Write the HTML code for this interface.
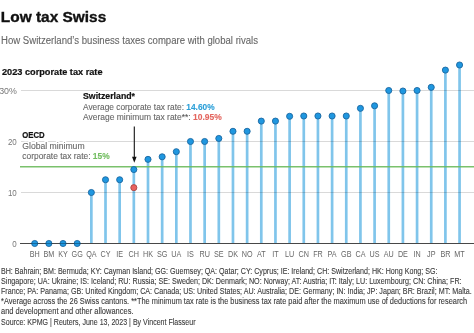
<!DOCTYPE html>
<html><head><meta charset="utf-8"><style>
html,body{margin:0;padding:0;background:#fff;width:474px;height:333px;overflow:hidden;position:relative;font-family:"Liberation Sans", sans-serif}
</style></head><body>
<svg width="474" height="333" viewBox="0 0 474 333" style="position:absolute;left:0;top:0;will-change:transform"><line x1="91.35" x2="91.35" y1="192.50" y2="243.50" stroke="#80c5eb" stroke-width="2.7"/><line x1="105.51" x2="105.51" y1="179.75" y2="243.50" stroke="#80c5eb" stroke-width="2.7"/><line x1="119.67" x2="119.67" y1="179.75" y2="243.50" stroke="#80c5eb" stroke-width="2.7"/><line x1="133.83" x2="133.83" y1="169.55" y2="243.50" stroke="#80c5eb" stroke-width="2.7"/><line x1="148.00" x2="148.00" y1="159.35" y2="243.50" stroke="#80c5eb" stroke-width="2.7"/><line x1="162.16" x2="162.16" y1="156.80" y2="243.50" stroke="#80c5eb" stroke-width="2.7"/><line x1="176.32" x2="176.32" y1="151.70" y2="243.50" stroke="#80c5eb" stroke-width="2.7"/><line x1="190.48" x2="190.48" y1="141.50" y2="243.50" stroke="#80c5eb" stroke-width="2.7"/><line x1="204.64" x2="204.64" y1="141.50" y2="243.50" stroke="#80c5eb" stroke-width="2.7"/><line x1="218.81" x2="218.81" y1="138.44" y2="243.50" stroke="#80c5eb" stroke-width="2.7"/><line x1="232.97" x2="232.97" y1="131.30" y2="243.50" stroke="#80c5eb" stroke-width="2.7"/><line x1="247.13" x2="247.13" y1="131.30" y2="243.50" stroke="#80c5eb" stroke-width="2.7"/><line x1="261.29" x2="261.29" y1="121.10" y2="243.50" stroke="#80c5eb" stroke-width="2.7"/><line x1="275.45" x2="275.45" y1="121.10" y2="243.50" stroke="#80c5eb" stroke-width="2.7"/><line x1="289.62" x2="289.62" y1="116.31" y2="243.50" stroke="#80c5eb" stroke-width="2.7"/><line x1="303.78" x2="303.78" y1="116.00" y2="243.50" stroke="#80c5eb" stroke-width="2.7"/><line x1="317.94" x2="317.94" y1="116.00" y2="243.50" stroke="#80c5eb" stroke-width="2.7"/><line x1="332.10" x2="332.10" y1="116.00" y2="243.50" stroke="#80c5eb" stroke-width="2.7"/><line x1="346.26" x2="346.26" y1="116.00" y2="243.50" stroke="#80c5eb" stroke-width="2.7"/><line x1="360.43" x2="360.43" y1="108.35" y2="243.50" stroke="#80c5eb" stroke-width="2.7"/><line x1="374.59" x2="374.59" y1="105.80" y2="243.50" stroke="#80c5eb" stroke-width="2.7"/><line x1="388.75" x2="388.75" y1="90.50" y2="243.50" stroke="#80c5eb" stroke-width="2.7"/><line x1="402.91" x2="402.91" y1="91.01" y2="243.50" stroke="#80c5eb" stroke-width="2.7"/><line x1="417.07" x2="417.07" y1="90.50" y2="243.50" stroke="#80c5eb" stroke-width="2.7"/><line x1="431.24" x2="431.24" y1="87.34" y2="243.50" stroke="#80c5eb" stroke-width="2.7"/><line x1="445.40" x2="445.40" y1="70.10" y2="243.50" stroke="#80c5eb" stroke-width="2.7"/><line x1="459.56" x2="459.56" y1="65.00" y2="243.50" stroke="#80c5eb" stroke-width="2.7"/><line x1="21" x2="474" y1="192.50" y2="192.50" stroke="#000" stroke-opacity="0.15" stroke-width="1"/><line x1="21" x2="474" y1="141.50" y2="141.50" stroke="#000" stroke-opacity="0.15" stroke-width="1"/><line x1="21" x2="474" y1="90.50" y2="90.50" stroke="#000" stroke-opacity="0.15" stroke-width="1"/><line x1="20" x2="474" y1="166.70" y2="166.70" stroke="#6cba5c" stroke-opacity="0.9" stroke-width="1.6"/><line x1="20" x2="474" y1="243.50" y2="243.50" stroke="#666" stroke-width="1.1"/><circle cx="34.70" cy="243.50" r="3.05" fill="#1f97e0" stroke="#1a66a0" stroke-width="0.9"/><circle cx="48.86" cy="243.50" r="3.05" fill="#1f97e0" stroke="#1a66a0" stroke-width="0.9"/><circle cx="63.02" cy="243.50" r="3.05" fill="#1f97e0" stroke="#1a66a0" stroke-width="0.9"/><circle cx="77.19" cy="243.50" r="3.05" fill="#1f97e0" stroke="#1a66a0" stroke-width="0.9"/><circle cx="91.35" cy="192.50" r="3.05" fill="#1f97e0" stroke="#1a66a0" stroke-width="0.9"/><circle cx="105.51" cy="179.75" r="3.05" fill="#1f97e0" stroke="#1a66a0" stroke-width="0.9"/><circle cx="119.67" cy="179.75" r="3.05" fill="#1f97e0" stroke="#1a66a0" stroke-width="0.9"/><circle cx="133.83" cy="169.55" r="3.05" fill="#1f97e0" stroke="#1a66a0" stroke-width="0.9"/><circle cx="148.00" cy="159.35" r="3.05" fill="#1f97e0" stroke="#1a66a0" stroke-width="0.9"/><circle cx="162.16" cy="156.80" r="3.05" fill="#1f97e0" stroke="#1a66a0" stroke-width="0.9"/><circle cx="176.32" cy="151.70" r="3.05" fill="#1f97e0" stroke="#1a66a0" stroke-width="0.9"/><circle cx="190.48" cy="141.50" r="3.05" fill="#1f97e0" stroke="#1a66a0" stroke-width="0.9"/><circle cx="204.64" cy="141.50" r="3.05" fill="#1f97e0" stroke="#1a66a0" stroke-width="0.9"/><circle cx="218.81" cy="138.44" r="3.05" fill="#1f97e0" stroke="#1a66a0" stroke-width="0.9"/><circle cx="232.97" cy="131.30" r="3.05" fill="#1f97e0" stroke="#1a66a0" stroke-width="0.9"/><circle cx="247.13" cy="131.30" r="3.05" fill="#1f97e0" stroke="#1a66a0" stroke-width="0.9"/><circle cx="261.29" cy="121.10" r="3.05" fill="#1f97e0" stroke="#1a66a0" stroke-width="0.9"/><circle cx="275.45" cy="121.10" r="3.05" fill="#1f97e0" stroke="#1a66a0" stroke-width="0.9"/><circle cx="289.62" cy="116.31" r="3.05" fill="#1f97e0" stroke="#1a66a0" stroke-width="0.9"/><circle cx="303.78" cy="116.00" r="3.05" fill="#1f97e0" stroke="#1a66a0" stroke-width="0.9"/><circle cx="317.94" cy="116.00" r="3.05" fill="#1f97e0" stroke="#1a66a0" stroke-width="0.9"/><circle cx="332.10" cy="116.00" r="3.05" fill="#1f97e0" stroke="#1a66a0" stroke-width="0.9"/><circle cx="346.26" cy="116.00" r="3.05" fill="#1f97e0" stroke="#1a66a0" stroke-width="0.9"/><circle cx="360.43" cy="108.35" r="3.05" fill="#1f97e0" stroke="#1a66a0" stroke-width="0.9"/><circle cx="374.59" cy="105.80" r="3.05" fill="#1f97e0" stroke="#1a66a0" stroke-width="0.9"/><circle cx="388.75" cy="90.50" r="3.05" fill="#1f97e0" stroke="#1a66a0" stroke-width="0.9"/><circle cx="402.91" cy="91.01" r="3.05" fill="#1f97e0" stroke="#1a66a0" stroke-width="0.9"/><circle cx="417.07" cy="90.50" r="3.05" fill="#1f97e0" stroke="#1a66a0" stroke-width="0.9"/><circle cx="431.24" cy="87.34" r="3.05" fill="#1f97e0" stroke="#1a66a0" stroke-width="0.9"/><circle cx="445.40" cy="70.10" r="3.05" fill="#1f97e0" stroke="#1a66a0" stroke-width="0.9"/><circle cx="459.56" cy="65.00" r="3.05" fill="#1f97e0" stroke="#1a66a0" stroke-width="0.9"/><line x1="20" x2="474" y1="243.50" y2="243.50" stroke="#000" stroke-opacity="0.3" stroke-width="1"/><circle cx="133.83" cy="187.66" r="3.05" fill="#e8615f" stroke="#a84644" stroke-width="0.9"/><text transform="translate(34.70 257.00) scale(0.85 1)" font-size="8.5" font-weight="400" fill="#666" text-anchor="middle">BH</text><text transform="translate(48.86 257.00) scale(0.85 1)" font-size="8.5" font-weight="400" fill="#666" text-anchor="middle">BM</text><text transform="translate(63.02 257.00) scale(0.85 1)" font-size="8.5" font-weight="400" fill="#666" text-anchor="middle">KY</text><text transform="translate(77.19 257.00) scale(0.85 1)" font-size="8.5" font-weight="400" fill="#666" text-anchor="middle">GG</text><text transform="translate(91.35 257.00) scale(0.85 1)" font-size="8.5" font-weight="400" fill="#666" text-anchor="middle">QA</text><text transform="translate(105.51 257.00) scale(0.85 1)" font-size="8.5" font-weight="400" fill="#666" text-anchor="middle">CY</text><text transform="translate(119.67 257.00) scale(0.85 1)" font-size="8.5" font-weight="400" fill="#666" text-anchor="middle">IE</text><text transform="translate(133.83 257.00) scale(0.85 1)" font-size="8.5" font-weight="400" fill="#666" text-anchor="middle">CH</text><text transform="translate(148.00 257.00) scale(0.85 1)" font-size="8.5" font-weight="400" fill="#666" text-anchor="middle">HK</text><text transform="translate(162.16 257.00) scale(0.85 1)" font-size="8.5" font-weight="400" fill="#666" text-anchor="middle">SG</text><text transform="translate(176.32 257.00) scale(0.85 1)" font-size="8.5" font-weight="400" fill="#666" text-anchor="middle">UA</text><text transform="translate(190.48 257.00) scale(0.85 1)" font-size="8.5" font-weight="400" fill="#666" text-anchor="middle">IS</text><text transform="translate(204.64 257.00) scale(0.85 1)" font-size="8.5" font-weight="400" fill="#666" text-anchor="middle">RU</text><text transform="translate(218.81 257.00) scale(0.85 1)" font-size="8.5" font-weight="400" fill="#666" text-anchor="middle">SE</text><text transform="translate(232.97 257.00) scale(0.85 1)" font-size="8.5" font-weight="400" fill="#666" text-anchor="middle">DK</text><text transform="translate(247.13 257.00) scale(0.85 1)" font-size="8.5" font-weight="400" fill="#666" text-anchor="middle">NO</text><text transform="translate(261.29 257.00) scale(0.85 1)" font-size="8.5" font-weight="400" fill="#666" text-anchor="middle">AT</text><text transform="translate(275.45 257.00) scale(0.85 1)" font-size="8.5" font-weight="400" fill="#666" text-anchor="middle">IT</text><text transform="translate(289.62 257.00) scale(0.85 1)" font-size="8.5" font-weight="400" fill="#666" text-anchor="middle">LU</text><text transform="translate(303.78 257.00) scale(0.85 1)" font-size="8.5" font-weight="400" fill="#666" text-anchor="middle">CN</text><text transform="translate(317.94 257.00) scale(0.85 1)" font-size="8.5" font-weight="400" fill="#666" text-anchor="middle">FR</text><text transform="translate(332.10 257.00) scale(0.85 1)" font-size="8.5" font-weight="400" fill="#666" text-anchor="middle">PA</text><text transform="translate(346.26 257.00) scale(0.85 1)" font-size="8.5" font-weight="400" fill="#666" text-anchor="middle">GB</text><text transform="translate(360.43 257.00) scale(0.85 1)" font-size="8.5" font-weight="400" fill="#666" text-anchor="middle">CA</text><text transform="translate(374.59 257.00) scale(0.85 1)" font-size="8.5" font-weight="400" fill="#666" text-anchor="middle">US</text><text transform="translate(388.75 257.00) scale(0.85 1)" font-size="8.5" font-weight="400" fill="#666" text-anchor="middle">AU</text><text transform="translate(402.91 257.00) scale(0.85 1)" font-size="8.5" font-weight="400" fill="#666" text-anchor="middle">DE</text><text transform="translate(417.07 257.00) scale(0.85 1)" font-size="8.5" font-weight="400" fill="#666" text-anchor="middle">IN</text><text transform="translate(431.24 257.00) scale(0.85 1)" font-size="8.5" font-weight="400" fill="#666" text-anchor="middle">JP</text><text transform="translate(445.40 257.00) scale(0.85 1)" font-size="8.5" font-weight="400" fill="#666" text-anchor="middle">BR</text><text transform="translate(459.56 257.00) scale(0.85 1)" font-size="8.5" font-weight="400" fill="#666" text-anchor="middle">MT</text><text transform="translate(16.80 246.90) scale(0.84 1)" font-size="9.5" font-weight="400" fill="#777" text-anchor="end">0</text><text transform="translate(16.80 195.90) scale(0.84 1)" font-size="9.5" font-weight="400" fill="#777" text-anchor="end">10</text><text transform="translate(16.80 144.90) scale(0.84 1)" font-size="9.5" font-weight="400" fill="#777" text-anchor="end">20</text><text transform="translate(16.80 93.90) scale(0.93 1)" font-size="9.5" font-weight="400" fill="#777" text-anchor="end">30%</text><line x1="134.3" x2="134.3" y1="126.5" y2="158" stroke="#111" stroke-width="1.1"/><path d="M132.0,156.8 L136.6,156.8 L134.3,162.8 Z" fill="#111"/><text x="0.8" y="21.5" font-size="15.2" font-weight="700" fill="#111" stroke="#111" stroke-width="0.35" textLength="105.5" lengthAdjust="spacingAndGlyphs">Low tax Swiss</text><text x="1" y="43.8" font-size="10" font-weight="400" fill="#666" stroke="#666" stroke-width="0.1" textLength="257" lengthAdjust="spacingAndGlyphs">How Switzerland’s business taxes compare with global rivals</text><text x="2" y="75.2" font-size="8.7" font-weight="700" fill="#111" stroke="#111" stroke-width="0.2" textLength="100.5" lengthAdjust="spacingAndGlyphs">2023 corporate tax rate</text><text x="83" y="99" font-size="8.5" font-weight="700" fill="#111" stroke="#111" stroke-width="0.2" textLength="52" lengthAdjust="spacingAndGlyphs">Switzerland*</text><text x="83" y="110.4" font-size="8.5" font-weight="400" fill="#666" stroke="#666" stroke-width="0.1" textLength="131.6" lengthAdjust="spacingAndGlyphs">Average corporate tax rate: <tspan font-weight="700" fill="#2b9fd8" stroke="#2b9fd8">14.60%</tspan></text><text x="83" y="120.2" font-size="8.5" font-weight="400" fill="#666" stroke="#666" stroke-width="0.1" textLength="138.7" lengthAdjust="spacingAndGlyphs">Average minimum tax rate<tspan fill="#555" stroke="#555">**</tspan>: <tspan font-weight="700" fill="#e3655e" stroke="#e3655e">10.95%</tspan></text><text x="22.3" y="137.7" font-size="8.5" font-weight="700" fill="#111" stroke="#111" stroke-width="0.2" textLength="22.4" lengthAdjust="spacingAndGlyphs">OECD</text><text x="22.3" y="148.6" font-size="8.4" font-weight="400" fill="#fff" stroke="#fff" stroke-width="3" stroke-linejoin="round" textLength="62.3" lengthAdjust="spacingAndGlyphs">Global minimum</text><text x="22.3" y="148.6" font-size="8.5" font-weight="400" fill="#666" stroke="#666" stroke-width="0.1" textLength="62.3" lengthAdjust="spacingAndGlyphs">Global minimum</text><text x="22.3" y="159.2" font-size="8.5" font-weight="400" fill="#666" stroke="#666" stroke-width="0.1" textLength="87.4" lengthAdjust="spacingAndGlyphs">corporate tax rate: <tspan font-weight="700" fill="#72bd60" stroke="#72bd60">15%</tspan></text><text x="1" y="273.90000000000003" font-size="8.2" font-weight="400" fill="#3a3a3a" stroke="#3a3a3a" stroke-width="0.1" textLength="436.5" lengthAdjust="spacingAndGlyphs">BH: Bahrain; BM: Bermuda; KY: Cayman Island; GG: Guernsey; QA: Qatar; CY: Cyprus; IE: Ireland; CH: Switzerland; HK: Hong Kong; SG:</text><text x="1" y="283.7" font-size="8.2" font-weight="400" fill="#3a3a3a" stroke="#3a3a3a" stroke-width="0.1" textLength="460.6" lengthAdjust="spacingAndGlyphs">Singapore; UA: Ukraine; IS: Iceland; RU: Russia; SE: Sweden; DK: Denmark; NO: Norway; AT: Austria; IT: Italy; LU: Luxembourg; CN: China; FR:</text><text x="1" y="293.6" font-size="8.2" font-weight="400" fill="#3a3a3a" stroke="#3a3a3a" stroke-width="0.1" textLength="470.7" lengthAdjust="spacingAndGlyphs">France; PA: Panama; GB: United Kingdom; CA: Canada; US: United States; AU: Australia; DE: Germany; IN: India; JP: Japan; BR: Brazil; MT: Malta.</text><text x="1" y="303.6" font-size="8.2" font-weight="400" fill="#3a3a3a" stroke="#3a3a3a" stroke-width="0.1" textLength="466.2" lengthAdjust="spacingAndGlyphs">*Average across the 26 Swiss cantons. **The minimum tax rate is the business tax rate paid after the maximum use of deductions for research</text><text x="1" y="313.5" font-size="8.2" font-weight="400" fill="#3a3a3a" stroke="#3a3a3a" stroke-width="0.1" textLength="132.5" lengthAdjust="spacingAndGlyphs">and development and other allowances.</text><text x="1" y="324.90000000000003" font-size="8.2" font-weight="400" fill="#3a3a3a" stroke="#3a3a3a" stroke-width="0.1" textLength="194.5" lengthAdjust="spacingAndGlyphs">Source: KPMG | Reuters, June 13, 2023 | By Vincent Flasseur</text></svg>
</body></html>
